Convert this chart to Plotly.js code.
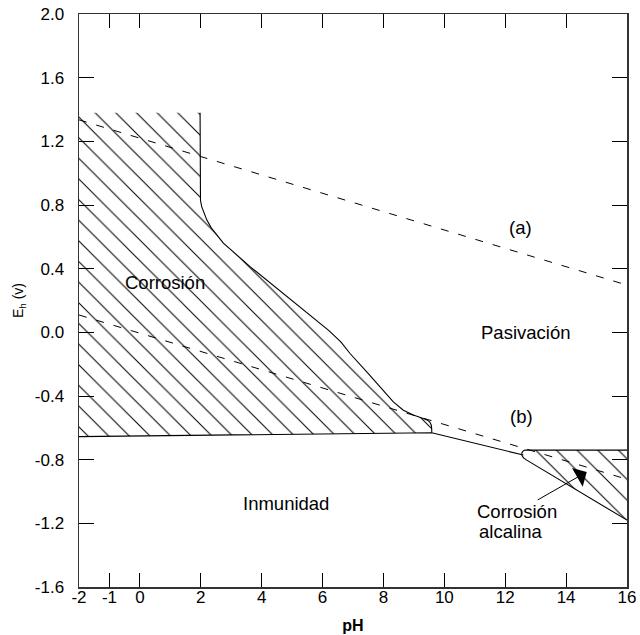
<!DOCTYPE html>
<html><head><meta charset="utf-8">
<script src="https://cdn.plot.ly/plotly-3.0.1.min.js"></script>
<style>html,body{margin:0;padding:0;background:#fff}#chart{width:640px;height:635px}</style>
</head><body><div id="chart"></div>
<script>
// Water stability lines (dashed)
const lineA_pH = [-2, 16];
const lineA_E = [1.335, 0.297];
const lineB_pH = [-2, 16];
const lineB_E = [0.109, -0.923];

// Acid corrosion boundary: vertical line, curve, down to the tip
const corrBound_pH = [1.977, 1.977, 1.99, 2.03, 2.10, 2.20, 2.35, 2.55, 2.742, 3.619, 5.81, 6.20, 6.60, 6.903, 7.452, 7.997, 8.325, 8.654, 8.982, 9.31, 9.45, 9.53, 9.575, 9.586, 9.586];
const corrBound_E = [1.379, 0.874, 0.830, 0.790, 0.750, 0.705, 0.655, 0.605, 0.560, 0.413, 0.077, 0.012, -0.060, -0.133, -0.248, -0.363, -0.437, -0.489, -0.520, -0.541, -0.552, -0.565, -0.585, -0.610, -0.631];
const corrTop_E = 1.379;

// Immunity boundary (bottom of corrosion, then towards alkaline tip)
const immBound_pH = [-2, 9.586, 12.595];
const immBound_E = [-0.655, -0.631, -0.771];

// Alkaline corrosion boundary
const alkBound_pH = [16, 12.65, 12.59, 12.545, 12.55, 12.60, 12.706, 16];
const alkBound_E = [-0.740, -0.740, -0.745, -0.758, -0.774, -0.789, -0.803, -1.180];

// Ticks
const xTickVals = [-2, -1, 0, 2, 4, 6, 8, 10, 12, 14, 16];
const xTickText = ['-2', '-1', '0', '2', '4', '6', '8', '10', '12', '14', '16'];
const yTickVals = [2.0, 1.6, 1.2, 0.8, 0.4, 0.0, -0.4, -0.8, -1.2, -1.6];
const yTickText = ['2.0', '1.6', '1.2', '0.8', '0.4', '0.0', '-0.4', '-0.8', '-1.2', '-1.6'];

const hatch = {shape: '\\', size: 14.6, solidity: 0.07, fgcolor: '#000', bgcolor: 'rgba(0,0,0,0)'};

const corrPolyX = [-2].concat(corrBound_pH, [-2]);
const corrPolyY = [corrTop_E].concat(corrBound_E, [immBound_E[0]]);

const traces = [
  {x: corrPolyX, y: corrPolyY, mode: 'lines', fill: 'toself', fillcolor: 'rgba(0,0,0,0)',
   fillpattern: hatch, line: {width: 0, color: 'rgba(0,0,0,0)'}, hoverinfo: 'skip'},
  {x: alkBound_pH, y: alkBound_E, mode: 'lines', fill: 'toself', fillcolor: 'rgba(0,0,0,0)',
   fillpattern: hatch, line: {width: 0, color: 'rgba(0,0,0,0)'}, hoverinfo: 'skip'},
  {x: lineA_pH, y: lineA_E, mode: 'lines', line: {color: '#000', width: 1, dash: '8px,10px'}, hoverinfo: 'skip'},
  {x: lineB_pH, y: lineB_E, mode: 'lines', line: {color: '#000', width: 1, dash: '8px,10px'}, hoverinfo: 'skip'},
  {x: corrBound_pH, y: corrBound_E, mode: 'lines', line: {color: '#000', width: 1.1}, hoverinfo: 'skip'},
  {x: immBound_pH, y: immBound_E, mode: 'lines', line: {color: '#000', width: 1.1}, hoverinfo: 'skip'},
  {x: alkBound_pH, y: alkBound_E, mode: 'lines', line: {color: '#000', width: 1.1}, hoverinfo: 'skip'}
];

const font = 'Liberation Sans, Arial, Helvetica, sans-serif';
const lbl = 18.5;

const layout = {
  width: 640, height: 635,
  margin: {l: 79, r: 13, t: 14, b: 48, pad: 0},
  paper_bgcolor: '#fff', plot_bgcolor: '#fff',
  showlegend: false,
  font: {family: font, color: '#000', size: 17},
  xaxis: {
    range: [-2, 16], tickmode: 'array', tickvals: xTickVals, ticktext: xTickText,
    ticks: 'inside', ticklen: 14, tickwidth: 1, tickcolor: '#000',
    showline: true, linecolor: '#333', linewidth: 1.5, mirror: 'ticks',
    showgrid: false, zeroline: false, fixedrange: true, automargin: false,
    tickfont: {size: 17, family: font}, ticklabelstandoff: -6,
    title: {text: '<b>pH</b>', font: {size: 16, family: font}, standoff: 14}
  },
  yaxis: {
    range: [-1.6, 2.0], tickmode: 'array', tickvals: yTickVals, ticktext: yTickText,
    ticks: 'inside', ticklen: 15, tickwidth: 1, tickcolor: '#000',
    showline: true, linecolor: '#333', linewidth: 1.5, mirror: 'ticks',
    showgrid: false, zeroline: false, fixedrange: true, automargin: false,
    tickfont: {size: 17, family: font}, ticklabelstandoff: 10,
    title: {text: 'E<sub>h</sub> (v)', font: {size: 14, family: font}, standoff: 8}
  },
  annotations: [
    {x: 0.828, y: 0.310, xref: 'x', yref: 'y', text: 'Corrosión', showarrow: false, font: {size: lbl}},
    {x: 12.667, y: -0.004, xref: 'x', yref: 'y', text: 'Pasivación', showarrow: false, font: {size: lbl}},
    {x: 12.486, y: 0.656, xref: 'x', yref: 'y', text: '(a)', showarrow: false, font: {size: lbl}},
    {x: 12.535, y: -0.531, xref: 'x', yref: 'y', text: '(b)', showarrow: false, font: {size: lbl}},
    {x: 4.801, y: -1.075, xref: 'x', yref: 'y', text: 'Inmunidad', showarrow: false, font: {size: lbl}},
    {x: 14.677, y: -0.877, xref: 'x', yref: 'y', text: 'Corrosión', showarrow: true,
     axref: 'pixel', ayref: 'pixel', ax: -70, ay: 40, arrowhead: 1, arrowsize: 3.6, arrowwidth: 1,
     arrowcolor: '#000', standoff: 0, startstandoff: 0, font: {size: lbl}},
    {x: 11.074, y: -1.249, xref: 'x', yref: 'y', text: 'alcalina', xanchor: 'left', showarrow: false, font: {size: lbl}}
  ]
};

Plotly.newPlot('chart', traces, layout, {staticPlot: true, displayModeBar: false});
</script>
</body></html>
